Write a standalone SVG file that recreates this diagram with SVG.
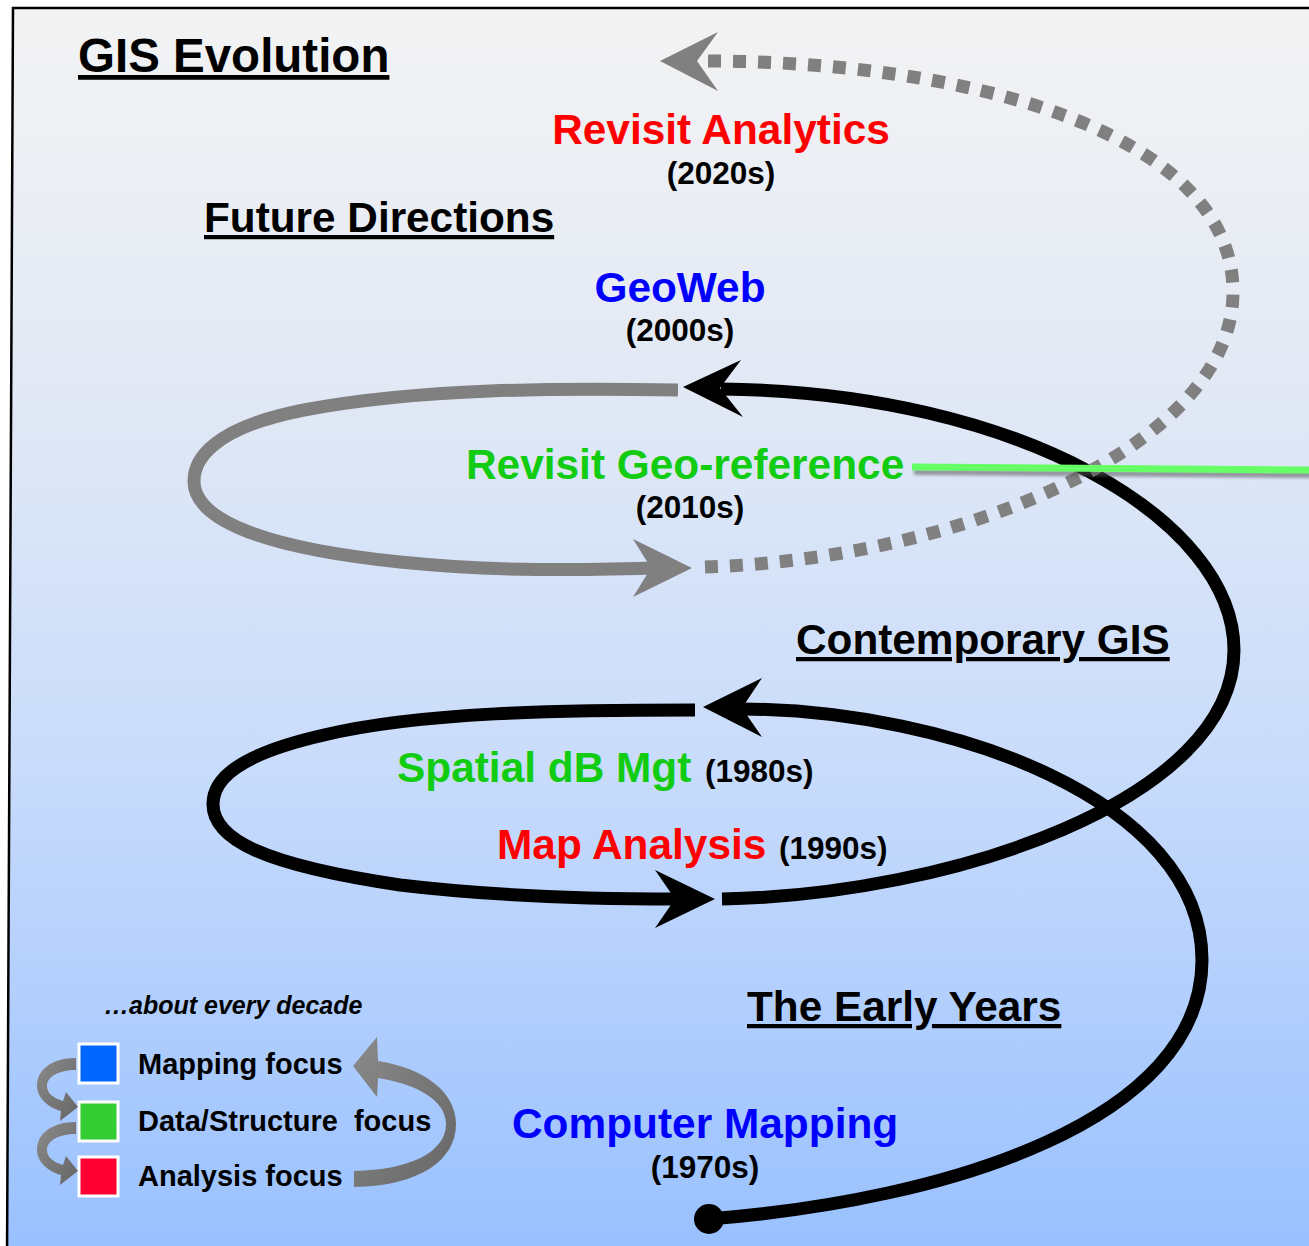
<svg xmlns="http://www.w3.org/2000/svg" width="1309" height="1246" viewBox="0 0 1309 1246">
  <defs>
    <linearGradient id="bg" x1="0" y1="0" x2="0" y2="1">
      <stop offset="0" stop-color="#f3f3f3"/>
      <stop offset="0.3" stop-color="#e2e9f5"/>
      <stop offset="0.6" stop-color="#c9dcfb"/>
      <stop offset="1" stop-color="#98c0ff"/>
    </linearGradient>
    <linearGradient id="legendArrow" x1="0" y1="0" x2="1" y2="1">
      <stop offset="0" stop-color="#8a8a8a"/>
      <stop offset="1" stop-color="#666666"/>
    </linearGradient>
    <filter id="soft" x="-5%" y="-200%" width="110%" height="500%">
      <feGaussianBlur stdDeviation="1.6"/>
    </filter>
    <style>
      text { font-family: "Liberation Sans", Arial, sans-serif; font-weight: bold; }
      .head { font-size: 42.3px; fill: #000; text-decoration: underline; }
      .era { font-size: 42.4px; }
      .date { font-size: 31.5px; fill: #000; }
      .red { fill: #ff0000; }
      .blue { fill: #0000ff; }
      .green { fill: #11cc11; }
      .legend { font-size: 29px; fill: #000; }
      .spiral { fill: none; stroke-width: 13; stroke-linecap: butt; }
      .blk { stroke: #000; }
      .gry { stroke: #808080; }
    </style>
  </defs>

  <!-- backdrop and frame -->
  <rect x="0" y="0" width="1309" height="1246" fill="#ffffff"/>
  <path d="M1320,8 L13,8 L7,1260 L1320,1260 Z" fill="url(#bg)"/>
  <path d="M1320,8 L13,8 L7,1260" fill="none" stroke="#000" stroke-width="2.5"/>

  <!-- spiral connectors -->
  <g id="connectors">
    <!-- 1970s -> 1980s -->
    <path class="spiral blk" d="M709,1219 C950,1200 1202,1120 1202,960 C1202,800 950,710 742,709"/>
    <polygon fill="#000" points="703,707 762,678 742,708 762,737"/>
    <!-- 1980s loop -> 1990s -->
    <path class="spiral blk" d="M695,710 C560,710 420,712 324,735 C236,755 213,780 213,804 C213,840 265,865 400,885 C500,897 600,899 676,899"/>
    <polygon fill="#000" points="715,899 655,870 675,899 655,928"/>
    <!-- 1990s -> 2000s -->
    <path class="spiral blk" d="M722,899 C950,895 1234,800 1234,650 C1234,520 1020,392 721,389"/>
    <polygon fill="#000" points="683,387 741,360 720,388 743,417"/>
    <!-- 2000s loop -> 2010s -->
    <path class="spiral gry" d="M678,390 C560,388 420,388 304,410 C212,428 194,460 194,481 C194,520 264,548 400,562 C500,572 580,570 652,568"/>
    <polygon fill="#808080" points="692,568 633,539 651,568 633,597"/>
    <!-- 2010s -> 2020s (future) -->
    <path class="spiral" stroke="#808080" stroke-dasharray="13 12" d="M705,567 C950,560 1233,450 1233,292 C1233,130 960,60 700,61"/>
    <polygon fill="#808080" points="660,61 718,32 697,61 718,91"/>
    <!-- start dot -->
    <circle cx="709" cy="1219" r="15" fill="#000"/>
    <!-- geo-reference pointer line -->
    <line x1="914" y1="472" x2="1312" y2="475" stroke="#555" stroke-width="6" opacity="0.55" filter="url(#soft)"/>
    <line x1="912" y1="467" x2="1312" y2="470" stroke="#66ff66" stroke-width="7"/>
  </g>

  <!-- headings -->
  <g id="title"><text x="78" y="72" font-size="47.5" fill="#000" text-decoration="underline">GIS Evolution</text></g>
  <g id="future-directions"><text class="head" x="204" y="232">Future Directions</text></g>
  <g id="contemporary-gis"><text class="head" x="796" y="654">Contemporary GIS</text></g>
  <g id="early-years"><text class="head" x="747" y="1021">The Early Years</text></g>

  <!-- eras -->
  <g id="revisit-analytics">
    <text class="era red" x="721" y="144" text-anchor="middle">Revisit Analytics</text>
    <text class="date" x="721" y="184" text-anchor="middle">(2020s)</text>
  </g>
  <g id="geoweb">
    <text class="era blue" x="680" y="302" text-anchor="middle">GeoWeb</text>
    <text class="date" x="680" y="341" text-anchor="middle">(2000s)</text>
  </g>
  <g id="revisit-georef">
    <text class="era green" x="466" y="479">Revisit Geo-reference</text>
    <text class="date" x="690" y="518" text-anchor="middle">(2010s)</text>
  </g>
  <g id="spatial-db">
    <text class="era green" x="397" y="782">Spatial dB Mgt</text>
    <text class="date" x="705" y="782">(1980s)</text>
  </g>
  <g id="map-analysis">
    <text class="era red" x="497" y="859">Map Analysis</text>
    <text class="date" x="779" y="859">(1990s)</text>
  </g>
  <g id="computer-mapping">
    <text class="era blue" x="512" y="1138">Computer Mapping</text>
    <text class="date" x="705" y="1178" text-anchor="middle">(1970s)</text>
  </g>

  <!-- legend -->
  <g id="legend">
    <text x="104" y="1014" font-size="25" font-weight="normal" font-style="italic" fill="#000">…about every decade</text>
    <rect x="79" y="1044" width="39" height="39" fill="#0066ff" stroke="#ffffff" stroke-width="3"/>
    <rect x="79" y="1102" width="39" height="39" fill="#33cc33" stroke="#ffffff" stroke-width="3"/>
    <rect x="79" y="1157" width="39" height="39" fill="#ff0033" stroke="#ffffff" stroke-width="3"/>
    <text class="legend" x="138" y="1074">Mapping focus</text>
    <text class="legend" x="138" y="1131" xml:space="preserve">Data/Structure  focus</text>
    <text class="legend" x="138" y="1186">Analysis focus</text>
    <!-- small cycle arrows on the left -->
    <path id="stepArrow" fill="url(#legendArrow)" d="M76,1058 C50,1058 37,1071 37,1086 C37,1097 47,1107 61,1111 L60,1121 L78,1107 L66,1092 L63,1101 C53,1098 47,1093 47,1086 C47,1077 58,1070 76,1070 Z"/>
    <use href="#stepArrow" transform="translate(0,64)"/>
    <!-- return arrow on the right -->
    <path fill="url(#legendArrow)" d="M354,1171 L354,1187 C420,1186 456,1160 456,1124 C456,1092 424,1068 378,1061 L377,1037 L353,1066 L377,1097 L378,1078 C416,1084 446,1100 446,1124 C446,1152 410,1170 354,1171 Z"/>
  </g>
</svg>
